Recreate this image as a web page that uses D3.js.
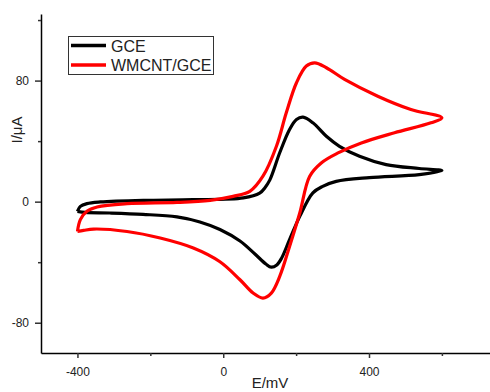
<!DOCTYPE html>
<html>
<head>
<meta charset="utf-8">
<script src="https://cdn.jsdelivr.net/npm/d3@7"></script>
<style>
  body { margin: 0; background: #fff; }
  svg { display: block; font-family: Arial, "Liberation Sans", sans-serif; }
</style>
</head>
<body>
<svg id="chart" width="490" height="392"></svg>
<script>
var seriesNames = ['GCE', 'WMCNT/GCE'];
var seriesColors = ['#000000', '#ff0000'];

// GCE loop: anodic sweep -400 -> 600 mV, then back
var gceE = [-400, -392, -374, -337, -219, -83, 55, 100, 114, 128, 155, 182, 201, 219, 246, 283, 319, 374, 447, 538, 600,
            538, 401, 310, 273, 246, 210, 182, 160, 147, 132, 117, 87, 46, -9, -64, -127, -220, -311, -378, -400];
var gceI = [-6.4, -3.1, -1.3, -0.2, 0.9, 1.3, 2.5, 5.6, 9.1, 14.4, 32.3, 47.7, 54.3, 55.8, 52.1, 43.2, 36.6, 30.0, 24.5, 21.9, 20.5,
            17.9, 15.9, 13.4, 10.1, 5.8, -9.7, -25.1, -37.4, -41.8, -43.3, -41.2, -34.6, -26.0, -18.4, -13.4, -10.1, -8.4, -7.5, -7.1, -6.4];

// WMCNT/GCE loop
var cntE = [-400, -392, -374, -346, -264, -127, -36, 27, 73, 109, 146, 173, 201, 228, 251, 283, 333, 424, 515, 600,
            570, 470, 379, 315, 269, 237, 210, 182, 155, 132, 109, 82, 46, -9, -82, -173, -264, -356, -383, -400];
var cntI = [-19.7, -11.9, -6.4, -3.5, -1.3, -0.5, 0.9, 3.5, 6.8, 16.8, 36.6, 58.7, 78.6, 89.6, 91.7, 88.5, 80.8, 69.7, 60.9, 55.4,
            52.1, 45.5, 38.8, 32.2, 25.6, 16.7, -7.5, -29.6, -49.4, -60.4, -63.7, -60.4, -51.6, -39.7, -30.6, -24.0, -19.7, -18.1, -19.0, -19.7];

var xMajorTicks = [-400, 0, 400];
var xMinorTicks = [-200, 200, 600];
var yMajorTicks = [-80, 0, 80];
var yMinorTicks = [-40, 40, 120];

var svg = d3.select('#chart');

var x = d3.scaleLinear().domain([-500, 732]).range([41, 490]);
var y = d3.scaleLinear().domain([-100, 124]).range([353, 14]);

function plain(d) { return String(d); }

// x axis
var gx = svg.append('g').attr('transform', 'translate(0,' + y(-100) + ')');
gx.call(d3.axisBottom(x).tickValues(xMajorTicks).tickSize(5).tickSizeOuter(0).tickPadding(9).tickFormat(plain));
svg.append('g').attr('transform', 'translate(0,' + y(-100) + ')')
  .call(d3.axisBottom(x).tickValues(xMinorTicks).tickSize(3).tickFormat(''))
  .select('.domain').remove();

// y axis
var gy = svg.append('g').attr('transform', 'translate(' + x(-500) + ',0)');
gy.call(d3.axisLeft(y).tickValues(yMajorTicks).tickSize(6).tickSizeOuter(0).tickPadding(6).tickFormat(plain));
svg.append('g').attr('transform', 'translate(' + x(-500) + ',0)')
  .call(d3.axisLeft(y).tickValues(yMinorTicks).tickSize(3).tickFormat(''))
  .select('.domain').remove();

svg.selectAll('.domain').attr('stroke', '#000').attr('stroke-width', 1.5);
svg.selectAll('.tick line').attr('stroke', '#333').attr('stroke-width', 1.5);
svg.selectAll('.tick text').attr('fill', '#222').style('font-size', '12px')
  .style('font-family', 'Arial, "Liberation Sans", sans-serif');

// axis titles
svg.append('text')
  .attr('x', 270).attr('y', 388)
  .attr('text-anchor', 'middle')
  .attr('fill', '#222')
  .style('font-size', '15px')
  .text('E/mV');

svg.append('text')
  .attr('transform', 'translate(21.5,130) rotate(-90)')
  .attr('text-anchor', 'middle')
  .attr('fill', '#222')
  .style('font-size', '15px')
  .text('I/\u03bcA');

// curves
var line = d3.line()
  .x(function(d) { return x(d[0]); })
  .y(function(d) { return y(d[1]); })
  .curve(d3.curveCatmullRom.alpha(0.5));

var loops = [d3.zip(gceE, gceI), d3.zip(cntE, cntI)];

loops.forEach(function(pts, i) {
  svg.append('path')
    .datum(pts)
    .attr('d', line)
    .attr('fill', 'none')
    .attr('stroke', seriesColors[i])
    .attr('stroke-width', 3.2)
    .attr('stroke-linejoin', 'round');
});

// legend
var lg = svg.append('g');
lg.append('rect')
  .attr('x', 68.5).attr('y', 36.5)
  .attr('width', 145).attr('height', 38)
  .attr('fill', '#fff')
  .attr('stroke', '#333')
  .attr('stroke-width', 1);

seriesNames.forEach(function(name, i) {
  var cy = 45.5 + i * 19.5;
  lg.append('line')
    .attr('x1', 71).attr('x2', 106)
    .attr('y1', cy).attr('y2', cy)
    .attr('stroke', seriesColors[i])
    .attr('stroke-width', 3.5);
  lg.append('text')
    .attr('x', 111).attr('y', cy + 6)
    .attr('fill', '#222')
    .style('font-size', '16px')
    .text(name);
});
</script>
</body>
</html>
